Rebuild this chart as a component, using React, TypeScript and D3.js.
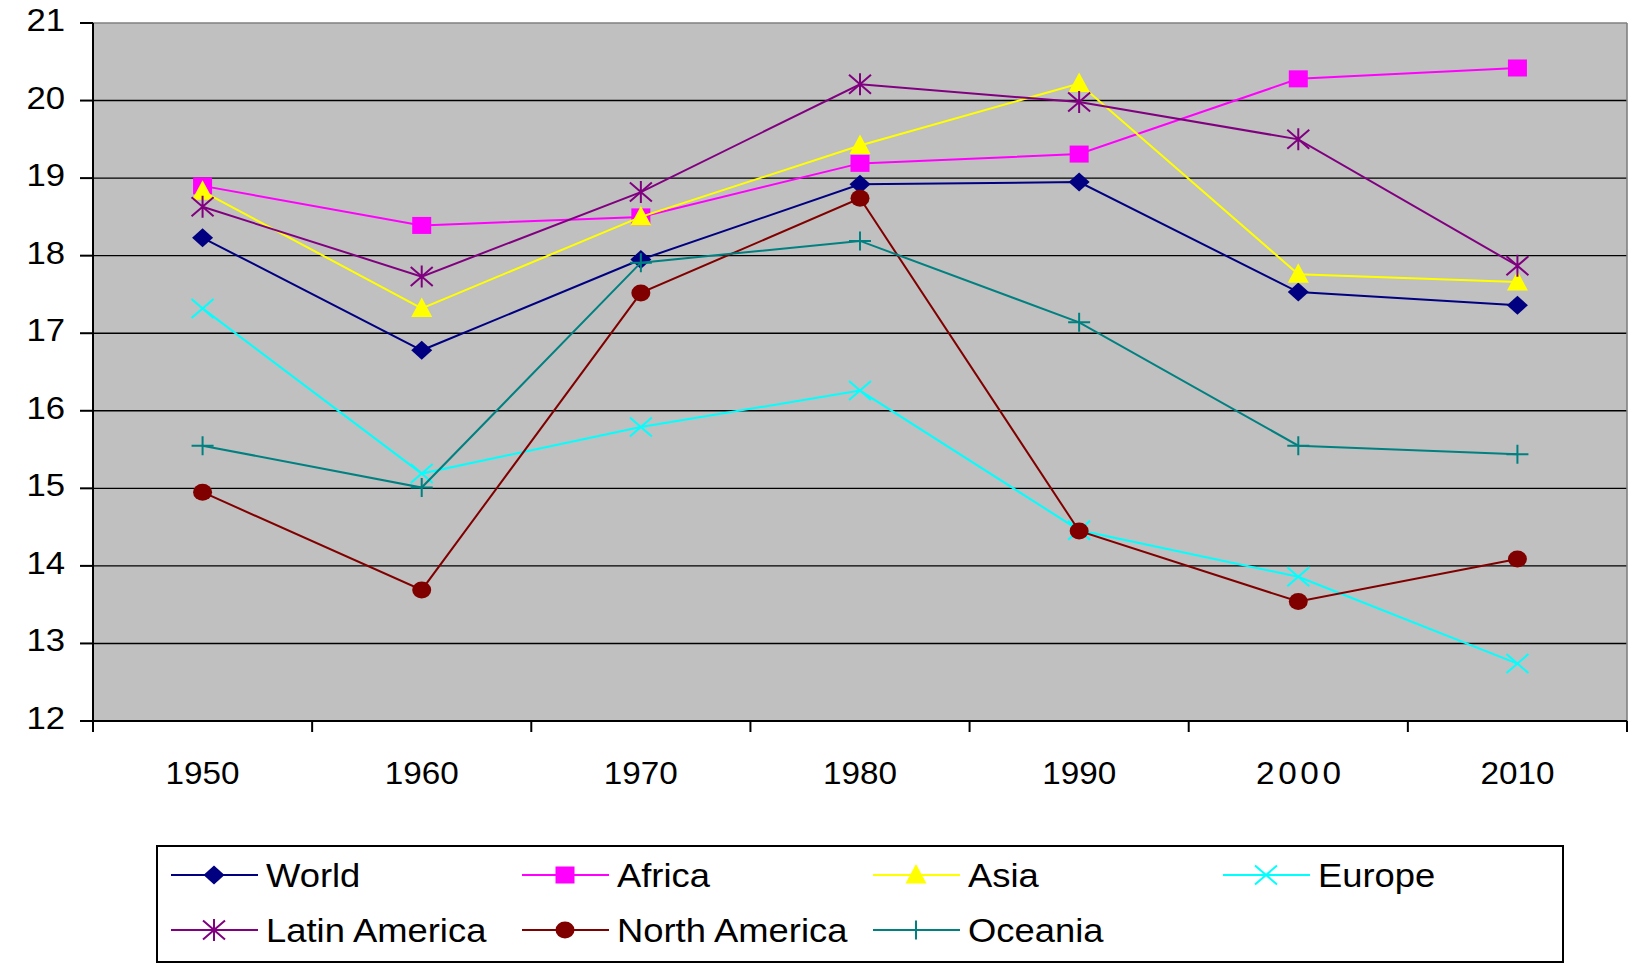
import React from "react";
import * as d3 from "d3";

const years = ["1950", "1960", "1970", "1980", "1990", "2000", "2010"];
const yTicks = [12, 13, 14, 15, 16, 17, 18, 19, 20, 21];

const world = [18.23, 16.78, 17.95, 18.92, 18.95, 17.53, 17.36];
const africa = [18.9, 18.39, 18.5, 19.19, 19.31, 20.28, 20.42];
const asia = [18.83, 17.32, 18.5, 19.42, 20.22, 17.76, 17.66];
const europe = [17.32, 15.19, 15.79, 16.26, 14.46, 13.86, 12.74];
const latinAmerica = [18.63, 17.73, 18.82, 20.21, 19.98, 19.5, 17.87];
const northAmerica = [14.95, 13.69, 17.52, 18.74, 14.45, 13.54, 14.09];
const oceania = [15.55, 15.01, 17.91, 18.19, 17.14, 15.55, 15.44];

const seriesNames = ["World", "Africa", "Asia", "Europe", "Latin America", "North America", "Oceania"];
const seriesValues = [world, africa, asia, europe, latinAmerica, northAmerica, oceania];
const seriesColors = ["#000080", "#FF00FF", "#FFFF00", "#00FFFF", "#800080", "#800000", "#008080"];
const seriesMarkers = ["diamond", "square", "triangle", "x", "star", "circle", "plus"];

const W = 1629;
const H = 964;
const plotLeft = 93;
const plotRight = 1627;
const plotTop = 23;
const plotBottom = 721;
const FONT = "'Liberation Sans', Arial, sans-serif";

function Marker({ type, color, x, y }: { type: string; color: string; x: number; y: number }) {
  const t = `translate(${x},${y})`;
  switch (type) {
    case "diamond":
      return <path transform={t} d="M0,-9.5L10.5,0L0,9.5L-10.5,0Z" fill={color} />;
    case "square":
      return <rect transform={t} x={-9.5} y={-8.5} width={19} height={17} fill={color} />;
    case "triangle":
      return <path transform={t} d="M0,-11L10.5,8.5L-10.5,8.5Z" fill={color} />;
    case "circle":
      return <ellipse transform={t} rx={9.5} ry={8.5} fill={color} />;
    case "x":
      return (
        <path transform={t} d="M-11,-9.5L11,9.5M-11,9.5L11,-9.5" stroke={color} strokeWidth={2} fill="none" />
      );
    case "star":
      return (
        <path
          transform={t}
          d="M-11,-9.5L11,9.5M-11,9.5L11,-9.5M0,-11L0,11"
          stroke={color}
          strokeWidth={2}
          fill="none"
        />
      );
    case "plus":
      return <path transform={t} d="M-11,0L11,0M0,-9.5L0,9.5" stroke={color} strokeWidth={2} fill="none" />;
    default:
      return null;
  }
}

export default function App() {
  const x = d3.scaleBand<string>().domain(years).range([plotLeft, plotRight]).padding(0);
  const y = d3.scaleLinear().domain([12, 21]).range([plotBottom, plotTop]);
  const cx = (yr: string) => (x(yr) as number) + x.bandwidth() / 2;

  const line = d3
    .line<number>()
    .x((_, i) => cx(years[i]))
    .y((d) => y(d));

  const boundaries = years.map((yr) => x(yr) as number).concat([plotRight]);

  const legendCols = [171, 522, 873, 1223];
  const legendRows = [875, 930];

  return (
    <div style={{ position: "fixed", left: 0, top: 0 }}>
      <svg width={W} height={H} style={{ display: "block", background: "#fff" }}>
        {/* plot background */}
        <rect x={plotLeft} y={plotTop} width={plotRight - plotLeft} height={plotBottom - plotTop} fill="#C0C0C0" />
        {/* gridlines */}
        {yTicks
          .filter((v) => v !== 12 && v !== 21)
          .map((v) => (
            <line key={v} x1={plotLeft} x2={plotRight} y1={y(v)} y2={y(v)} stroke="#000" strokeWidth={1.4} />
          ))}
        {/* top & right border */}
        <line x1={plotLeft} x2={plotRight} y1={plotTop} y2={plotTop} stroke="#808080" strokeWidth={1.6} />
        <line x1={plotRight} x2={plotRight} y1={plotTop} y2={plotBottom} stroke="#808080" strokeWidth={1.6} />
        {/* axes */}
        <line x1={plotLeft} x2={plotLeft} y1={plotTop} y2={plotBottom + 11} stroke="#000" strokeWidth={2} />
        <line x1={plotLeft - 13} x2={plotRight} y1={plotBottom} y2={plotBottom} stroke="#000" strokeWidth={2} />
        {yTicks.map((v) => (
          <g key={v}>
            <line x1={plotLeft - 13} x2={plotLeft} y1={y(v)} y2={y(v)} stroke="#000" strokeWidth={2} />
            <text
              transform={`translate(65,${y(v) + 8}) scale(1.12,1)`}
              textAnchor="end"
              fontFamily={FONT}
              fontSize={31}
              fill="#000"
            >
              {v}
            </text>
          </g>
        ))}
        {boundaries.map((b, i) => (
          <line key={i} x1={b} x2={b} y1={plotBottom} y2={plotBottom + 11} stroke="#000" strokeWidth={2} />
        ))}
        {years.map((yr) => (
          <text
            key={yr}
            transform={`translate(${cx(yr) + (yr === "2000" ? 2 : 0)},784) scale(1.04,1)`}
            textAnchor="middle"
            fontFamily={FONT}
            fontSize={32}
            letterSpacing={yr === "2000" ? 3.5 : 0}
            fill="#000"
          >
            {yr}
          </text>
        ))}
        {/* series */}
        {seriesValues.map((vals, si) => (
          <g key={seriesNames[si]}>
            <path d={line(vals) || ""} fill="none" stroke={seriesColors[si]} strokeWidth={2} />
            {vals.map((v, i) => (
              <Marker key={i} type={seriesMarkers[si]} color={seriesColors[si]} x={cx(years[i])} y={y(v)} />
            ))}
          </g>
        ))}
        {/* legend */}
        <rect x={157} y={846} width={1406} height={116} fill="#fff" stroke="#000" strokeWidth={2} />
        {seriesNames.map((name, i) => {
          const col = i < 4 ? i : i - 4;
          const row = i < 4 ? 0 : 1;
          const lx = legendCols[col];
          const ly = legendRows[row];
          return (
            <g key={name}>
              <line x1={lx} x2={lx + 87} y1={ly} y2={ly} stroke={seriesColors[i]} strokeWidth={2} />
              <Marker type={seriesMarkers[i]} color={seriesColors[i]} x={lx + 43} y={ly} />
              <text
                transform={`translate(${lx + 95},${ly + 12}) scale(1.07,1)`}
                fontFamily={FONT}
                fontSize={34}
                fill="#000"
              >
                {name}
              </text>
            </g>
          );
        })}
      </svg>
    </div>
  );
}
